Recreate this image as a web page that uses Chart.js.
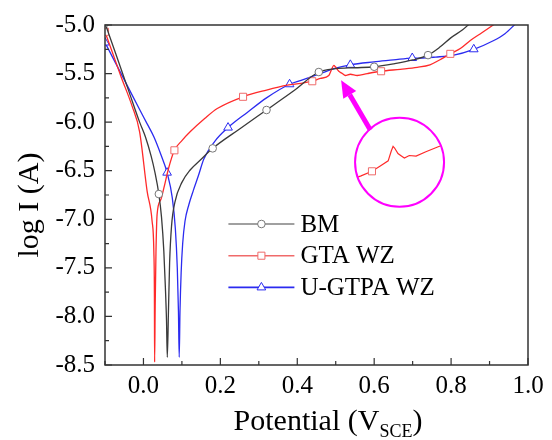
<!DOCTYPE html>
<html lang="en">
<head>
<meta charset="UTF-8">
<title>Potentiodynamic polarization</title>
<script src="https://cdn.jsdelivr.net/npm/chart.js@4.4.1/dist/chart.umd.min.js"></script>
<style>
  html, body { margin: 0; padding: 0; background: #fff; }
</style>
</head>
<body>
<canvas id="tafel" width="552" height="440"></canvas>
<script>
// potential (V vs SCE) and log current
const bmV = [-0.10, -0.07, -0.04, -0.01, 0.005, 0.02, 0.03, 0.04, 0.047, 0.053, 0.057, 0.060, 0.062,
  0.065, 0.068, 0.073, 0.082, 0.10, 0.122, 0.148, 0.18, 0.25, 0.32, 0.39, 0.456, 0.50, 0.55, 0.60,
  0.65, 0.70, 0.74, 0.77, 0.80, 0.83, 0.85];
const bmI = [-4.98, -5.32, -5.66, -6.00, -6.15, -6.35, -6.52, -6.74, -6.98, -7.33, -7.70, -8.05, -8.42,
  -7.95, -7.45, -7.07, -6.82, -6.62, -6.49, -6.39, -6.27, -6.07, -5.875, -5.68, -5.484, -5.45, -5.44, -5.43,
  -5.40, -5.36, -5.31, -5.23, -5.13, -5.05, -4.98];
const bmMarks = [-0.10, 0.04, 0.18, 0.32, 0.456, 0.60, 0.74];

const gtaV = [-0.10, -0.08, -0.058, -0.03, -0.01, 0.0095, 0.0225, 0.027, 0.0285, 0.029, 0.0305, 0.0325,
  0.0355, 0.045, 0.053, 0.065, 0.0805, 0.10, 0.122, 0.16, 0.192, 0.259, 0.32, 0.374, 0.41, 0.439, 0.46,
  0.482, 0.49, 0.495, 0.499, 0.508, 0.517, 0.525, 0.538, 0.556, 0.582, 0.618, 0.668, 0.712, 0.745, 0.77,
  0.798, 0.825, 0.85, 0.88, 0.913];
const gtaI = [-5.07, -5.29, -5.535, -5.83, -6.10, -6.71, -7.02, -7.33, -7.80, -8.47, -7.90, -7.35,
  -6.95, -6.80, -6.68, -6.48, -6.29, -6.19, -6.097, -5.96, -5.86, -5.739, -5.67, -5.62, -5.60, -5.579, -5.55,
  -5.52, -5.45, -5.415, -5.43, -5.477, -5.50, -5.52, -5.507, -5.52, -5.50, -5.476, -5.456, -5.436, -5.41, -5.36,
  -5.297, -5.24, -5.16, -5.08, -4.99];
const gtaMarks = [-0.10, 0.0805, 0.259, 0.439, 0.618, 0.798];

const ugtpaV = [-0.10, -0.07, -0.04, -0.01, 0.01, 0.027, 0.045, 0.0615, 0.075, 0.083, 0.088, 0.091, 0.093,
  0.095, 0.098, 0.102, 0.108, 0.118, 0.13, 0.143, 0.157, 0.185, 0.22, 0.27, 0.32, 0.38, 0.41, 0.46, 0.495,
  0.538, 0.599, 0.65, 0.699, 0.72, 0.76, 0.807, 0.859, 0.911, 0.94, 0.967];
const ugtpaI = [-5.18, -5.41, -5.64, -5.87, -6.02, -6.15, -6.33, -6.52, -6.78, -7.10, -7.50, -7.95, -8.42,
  -7.95, -7.55, -7.25, -7.02, -6.85, -6.70, -6.55, -6.38, -6.20, -6.056, -5.90, -5.75, -5.61, -5.57, -5.50, -5.45,
  -5.41, -5.38, -5.36, -5.34, -5.34, -5.33, -5.31, -5.25, -5.16, -5.09, -4.99];
const ugtpaMarks = [-0.10, 0.0615, 0.22, 0.38, 0.538, 0.699, 0.859];

const xTicks = { min: -0.1, max: 1.0, step: 0.1 };
const yTicks = { min: -8.5, max: -5.0, step: 0.25 };

const serif = "Liberation Serif";
Chart.defaults.font.family = serif;

function series(label, xs, ys, marks, color, markColor, style, r) {
  return {
    label,
    data: xs.map((v, i) => ({ x: v, y: ys[i] })),
    borderColor: color,
    borderWidth: 1.3,
    pointStyle: style,
    pointRadius: c => marks.includes(xs[c.dataIndex]) ? r : 0,
    pointHoverRadius: 0,
    pointBorderColor: markColor,
    pointBackgroundColor: "#fff",
    pointBorderWidth: 1,
    cubicInterpolationMode: "monotone",
    fill: false
  };
}

const datasets = [
  series("BM", bmV, bmI, bmMarks, "#3a3a3a", "#777", "circle", 3.8),
  series("GTA WZ", gtaV, gtaI, gtaMarks, "#ff2a2a", "#ef6b6b", "rect", 5),
  series("U-GTPA WZ", ugtpaV, ugtpaI, ugtpaMarks, "#2b2bf0", "#2b2bf0", "triangle", 5)
];

// frame, inward ticks, titles, legend and the magenta zoom note
const decor = {
  id: "decor",
  afterDatasetsDraw(chart) {
    const { ctx, chartArea: a, scales: { x, y } } = chart;
    const H = Chart.helpers;
    ctx.save();

    ctx.strokeStyle = "#333";
    ctx.lineWidth = 1.5;
    ctx.strokeRect(a.left, a.top, a.right - a.left, a.bottom - a.top);

    ctx.lineWidth = 1.2;
    ctx.beginPath();
    x.ticks.forEach(t => {
      const px = x.getPixelForValue(t.value);
      const len = t.label ? 7 : 4;
      ctx.moveTo(px, a.bottom);
      ctx.lineTo(px, a.bottom - len);
    });
    y.ticks.forEach(t => {
      const py = y.getPixelForValue(t.value);
      const len = t.label ? 7 : 4;
      ctx.moveTo(a.left, py);
      ctx.lineTo(a.left + len, py);
    });
    ctx.stroke();

    // magnified view of the GTA WZ step
    const cx = x.getPixelForValue(0.666), cy = y.getPixelForValue(-6.414), R = 44.5;
    const ox = x.getPixelForValue(0.556), oy = y.getPixelForValue(-6.506);
    const inset = (v, i) => [ox + (v - 0.40) * 377, oy - (i + 5.579) * 130 - (v - 0.439) * 65];
    ctx.save();
    ctx.beginPath();
    ctx.arc(cx, cy, R, 0, Math.PI * 2);
    ctx.clip();
    ctx.strokeStyle = "#ff2a2a";
    ctx.lineWidth = 1.2;
    ctx.beginPath();
    gtaV.forEach((v, k) => {
      if (v < 0.30 || v > 0.72) return;
      const [px, py] = inset(v, gtaI[k]);
      ctx.lineTo(px, py);
    });
    ctx.stroke();
    const [sx, sy] = inset(0.439, -5.579);
    ctx.fillStyle = "#fff";
    ctx.strokeStyle = "#ef6b6b";
    ctx.lineWidth = 1;
    H.drawPoint(ctx, { pointStyle: "rect", radius: 5, rotation: 0, borderWidth: 1 }, sx, sy);
    ctx.restore();

    ctx.strokeStyle = "#ff00ff";
    ctx.lineWidth = 2;
    ctx.beginPath();
    ctx.arc(cx, cy, R, 0, Math.PI * 2);
    ctx.stroke();

    const x0 = x.getPixelForValue(0.590), y0 = y.getPixelForValue(-6.08);
    const x1 = x.getPixelForValue(0.514), y1 = y.getPixelForValue(-5.568);
    const ang = Math.atan2(y1 - y0, x1 - x0);
    const hl = 17, hw = 7.5;
    const bx = x1 - Math.cos(ang) * hl, by = y1 - Math.sin(ang) * hl;
    ctx.lineWidth = 5;
    ctx.beginPath();
    ctx.moveTo(x0, y0);
    ctx.lineTo(bx, by);
    ctx.stroke();
    ctx.fillStyle = "#ff00ff";
    ctx.beginPath();
    ctx.moveTo(x1, y1);
    ctx.lineTo(bx + Math.sin(ang) * hw, by - Math.cos(ang) * hw);
    ctx.lineTo(bx - Math.sin(ang) * hw, by + Math.cos(ang) * hw);
    ctx.closePath();
    ctx.fill();

    // legend
    const rows = [
      { ds: datasets[0], line: "#808080" },
      { ds: datasets[1], line: "#f06a6a" },
      { ds: datasets[2], line: "#2b2bf0" }
    ];
    ctx.font = "25px " + serif;
    ctx.textBaseline = "middle";
    ctx.textAlign = "left";
    rows.forEach((row, k) => {
      const ly = a.top + 199 + k * 31.7;
      const lx = a.left + 123.4;
      ctx.strokeStyle = row.line;
      ctx.lineWidth = 1.6;
      ctx.beginPath();
      ctx.moveTo(lx, ly);
      ctx.lineTo(lx + 66, ly);
      ctx.stroke();
      ctx.fillStyle = "#fff";
      ctx.strokeStyle = row.ds.pointBorderColor;
      ctx.lineWidth = 1;
      const r = row.ds.pointStyle === "circle" ? 3.8 : 5;
      H.drawPoint(ctx, { pointStyle: row.ds.pointStyle, radius: r, rotation: 0, borderWidth: 1 }, lx + 33, ly);
      ctx.fillStyle = "#000";
      ctx.fillText(row.ds.label, lx + 72, ly + 1);
    });

    // axis titles
    ctx.fillStyle = "#000";
    ctx.save();
    ctx.translate(30, 205);
    ctx.rotate(-Math.PI / 2);
    ctx.textAlign = "center";
    ctx.font = "30px " + serif;
    ctx.fillText("log I (A)", 0, 0);
    ctx.restore();

    ctx.textBaseline = "alphabetic";
    ctx.textAlign = "left";
    const main = "30px " + serif, sub = "18px " + serif;
    ctx.font = main;
    const w1 = ctx.measureText("Potential (V").width;
    const w3 = ctx.measureText(")").width;
    ctx.font = sub;
    const w2 = ctx.measureText("SCE").width;
    let tx = 328 - (w1 + w2 + w3) / 2;
    const base = 430;
    ctx.font = main;
    ctx.fillText("Potential (V", tx, base);
    tx += w1;
    ctx.font = sub;
    ctx.fillText("SCE", tx, base + 7);
    tx += w2;
    ctx.font = main;
    ctx.fillText(")", tx, base);

    ctx.restore();
  }
};

const tickFont = { family: serif, size: 25 };

new Chart(document.getElementById("tafel"), {
  type: "line",
  data: { datasets },
  options: {
    responsive: false,
    animation: false,
    layout: { padding: { top: 23, right: 24, left: 0, bottom: 0 } },
    plugins: { legend: { display: false }, tooltip: { enabled: false } },
    scales: {
      x: {
        type: "linear",
        min: xTicks.min,
        max: xTicks.max,
        border: { display: false },
        grid: { display: false, drawTicks: false },
        ticks: {
          stepSize: xTicks.step,
          autoSkip: false,
          maxRotation: 0,
          padding: 6,
          color: "#000",
          font: tickFont,
          callback: v => Math.round(v * 10) % 2 === 0 ? (Math.abs(v) < 1e-9 ? 0 : v).toFixed(1) : ""
        },
        afterFit: s => { s.height = 75; }
      },
      y: {
        min: yTicks.min,
        max: yTicks.max,
        border: { display: false },
        grid: { display: false, drawTicks: false },
        ticks: {
          stepSize: yTicks.step,
          autoSkip: false,
          padding: 10,
          color: "#000",
          font: tickFont,
          callback: v => Math.round(v * 4) % 2 === 0 ? v.toFixed(1) : ""
        },
        afterFit: s => { s.width = 105; }
      }
    }
  },
  plugins: [decor]
});
</script>
</body>
</html>
